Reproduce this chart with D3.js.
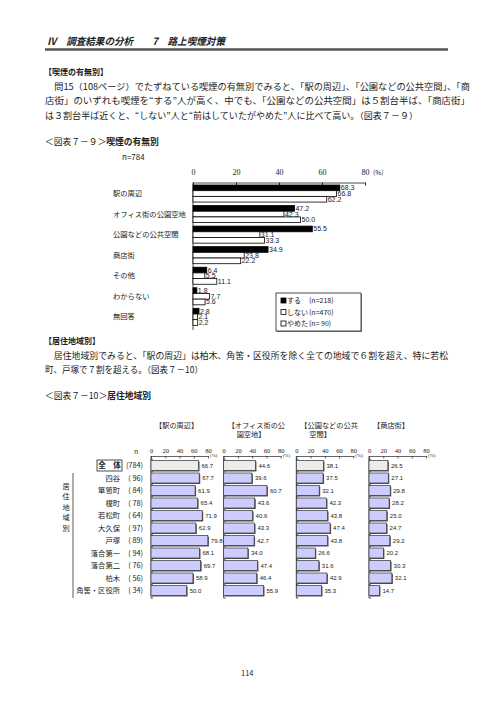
<!DOCTYPE html>
<meta charset="utf-8">
<head>
<style>
  body { margin: 0; background: #fff; }
  text { font-family: "Noto Sans CJK JP", sans-serif; fill: #222; white-space: pre; }
  .num { font-family: "Liberation Sans", Arial, sans-serif; }
  .tick text { font-family: "Liberation Serif", serif; fill: #222; }
  .domain, .tick line { stroke: #222; }
</style>
</head>
<body>
<div id="content"></div>
<script src="https://d3js.org/d3.v7.min.js"></script>
<script>

// 図表7-9 喫煙の有無別
var smokeCats = ["駅の周辺", "オフィス街の公園空地", "公園などの公共空間", "商店街", "その他", "わからない", "無回答"];
var smokeSeries = ["する", "しない", "やめた"];
var smokeN = ["(n=218)", "(n=470)", "(n= 90)"];
var suru   = [68.3, 47.2, 55.5, 34.9, 6.4, 1.8, 2.8];
var shinai = [66.8, 42.3, 31.1, 23.8, 5.5, 7.7, 2.1];
var yameta = [62.2, 50.0, 33.3, 22.2, 11.1, 5.6, 2.2];

// 図表7-10 居住地域別
var areas = ["全　体", "四谷", "箪笥町", "榎町", "若松町", "大久保", "戸塚", "落合第一", "落合第二", "柏木", "角筈・区役所"];
var areaN = ["(784)", "( 96)", "( 84)", "( 78)", "( 64)", "( 97)", "( 89)", "( 94)", "( 76)", "( 56)", "( 34)"];
var placeTitles = [["【駅の周辺】"], ["【オフィス街の公", "園空地】"], ["【公園などの公共", "空間】"], ["【商店街】"]];
var eki     = [66.7, 67.7, 61.9, 65.4, 71.9, 62.9, 79.8, 68.1, 69.7, 58.9, 50.0];
var office  = [44.6, 39.6, 60.7, 43.6, 40.6, 43.3, 42.7, 34.0, 47.4, 46.4, 55.9];
var kouen   = [38.1, 37.5, 32.1, 42.3, 43.8, 47.4, 43.8, 26.6, 31.6, 42.9, 35.3];
var shoten  = [26.5, 27.1, 29.8, 28.2, 25.0, 24.7, 29.2, 20.2, 30.3, 32.1, 14.7];
var pctTicks = [0, 20, 40, 60, 80];

function nb(s) { return s.replace(/ /g, "\u00a0"); }

var svg = d3.select("#content").append("svg")
    .attr("width", 496).attr("height", 702)
    .style("display", "block");
svg.append("rect").attr("width", 496).attr("height", 702).attr("fill", "#fff");

function line(txt, x, y, size, len, bold) {
  var t = svg.append("text").attr("x", x).attr("y", y).attr("dy", "0.36em")
      .style("font-size", size + "px").text(txt);
  if (len) t.attr("textLength", len).attr("lengthAdjust", "spacingAndGlyphs");
  if (bold) t.style("font-weight", "bold");
  return t;
}

// ---- page heading
line("Ⅳ　調査結果の分析　　7　路上喫煙対策", 47, 41, 10, 178, true).style("font-style", "italic");
svg.append("line").attr("x1", 45).attr("x2", 448).attr("y1", 49.5).attr("y2", 49.5)
    .attr("stroke", "#555").attr("stroke-width", 2.5);

line("【喫煙の有無別】", 44, 71.5, 8.5, 64, true);
line("　問15（108ページ）でたずねている喫煙の有無別でみると、「駅の周辺」、「公園などの公共空間」、「商", 45, 86.5, 8.75, 425);
line("店街」のいずれも喫煙を“する”人が高く、中でも、「公園などの公共空間」は５割台半ば、「商店街」", 45, 101, 8.75, 425);
line("は３割台半ば近くと、“しない”人と“前はしていたがやめた”人に比べて高い。（図表７－９）", 45, 115.5, 8.75, 373);

var cap1 = svg.append("text").attr("x", 45).attr("y", 142).attr("dy", "0.36em").style("font-size", "8.75px");
cap1.append("tspan").text("＜図表７－９＞");
cap1.append("tspan").style("font-weight", "bold").text("喫煙の有無別");
line("n=784", 122, 157, 8);

// ---- 図表7-9
var x1 = d3.scaleLinear().domain([0, 80]).range([193, 365]);
var y1 = d3.scaleBand().domain(smokeCats).range([185, 185 + 20.55 * 6.83]).paddingInner(0.17);
var ySub = d3.scaleBand().domain(smokeSeries).range([0, y1.bandwidth()]);
var smokeVals = [suru, shinai, yameta];

var ax1 = svg.append("g").attr("transform", "translate(0,182.5)")
    .call(d3.axisTop(x1).tickValues(pctTicks).tickSizeInner(-3).tickSizeOuter(0).tickPadding(8));
ax1.selectAll(".tick text").style("font-size", "8px");
ax1.select(".domain").attr("stroke-width", 0.8);
line("(%)", 373, 173, 6.5);
svg.append("line").attr("x1", x1(0)).attr("x2", x1(0)).attr("y1", 182.5).attr("y2", 330)
    .attr("stroke", "#222").attr("stroke-width", 0.8);

smokeCats.forEach(function(c, i) {
  line(c, 113, y1(c) + y1.bandwidth() / 2, 7.3);
  smokeSeries.forEach(function(s, j) {
    var v = smokeVals[j][i];
    var y = y1(c) + ySub(s);
    svg.append("rect").attr("x", x1(0)).attr("y", y)
        .attr("width", x1(v) - x1(0)).attr("height", ySub.bandwidth())
        .attr("fill", j === 0 ? "#000" : "#fff").attr("stroke", "#000").attr("stroke-width", 0.8);
    svg.append("text").attr("class", "num").attr("x", x1(v) + 1).attr("y", y + ySub.bandwidth() / 2)
        .attr("dy", "0.36em").style("font-size", "7px").text(v.toFixed(1));
  });
});

// legend
var lg = svg.append("g").attr("transform", "translate(276,293)");
lg.append("rect").attr("x", 1).attr("y", 1).attr("width", 85).attr("height", 38).attr("fill", "#888");
lg.append("rect").attr("width", 85).attr("height", 38).attr("fill", "#fff").attr("stroke", "#222").attr("stroke-width", 0.8);
smokeSeries.forEach(function(s, j) {
  var cy = 7.5 + j * 11.5;
  lg.append("rect").attr("x", 5).attr("y", cy - 2.5).attr("width", 5).attr("height", 5)
      .attr("fill", j === 0 ? "#000" : "#fff").attr("stroke", "#000").attr("stroke-width", 0.8);
  lg.append("text").attr("x", 11).attr("y", cy).attr("dy", "0.36em").style("font-size", "7px").text(s);
  lg.append("text").attr("x", 33).attr("y", cy).attr("dy", "0.36em").style("font-size", "7px").text(nb(smokeN[j]));
});

// ---- 居住地域別
line("【居住地域別】", 44, 341, 8.5, 56, true);
line("　居住地域別でみると、「駅の周辺」は柏木、角筈・区役所を除く全ての地域で６割を超え、特に若松", 45, 355.5, 8.75, 403);
line("町、戸塚で７割を超える。（図表７－10）", 45, 370, 8.75, 158);
var cap2 = svg.append("text").attr("x", 45).attr("y", 396).attr("dy", "0.36em").style("font-size", "8.75px");
cap2.append("tspan").text("＜図表７－10＞");
cap2.append("tspan").style("font-weight", "bold").text("居住地域別");

// ---- 図表7-10
var panelVals = [eki, office, kouen, shoten];
var px = d3.scalePoint().domain(d3.range(4)).range([151, 369]);
var y2 = d3.scaleBand().domain(areas).range([460.5, 460.5 + 12.5 * 10.8]).paddingInner(0.2);
var axisY = 456, bottomY = 598;

line("n", 134, 451, 7);

areas.forEach(function(a, i) {
  var cy = y2(a) + y2.bandwidth() / 2;
  if (i === 0) {
    svg.append("rect").attr("x", 97).attr("y", cy - 5.5).attr("width", 25).attr("height", 11)
        .attr("fill", "#fff").attr("stroke", "#222").attr("stroke-width", 0.8);
    svg.append("text").attr("x", 109.5).attr("y", cy).attr("dy", "0.36em").attr("text-anchor", "middle")
        .style("font-size", "7.5px").style("font-weight", "bold").text(a);
  } else {
    svg.append("text").attr("x", 120).attr("y", cy).attr("dy", "0.36em").attr("text-anchor", "end")
        .style("font-size", "7.3px").text(a);
  }
  svg.append("text").attr("x", 143).attr("y", cy).attr("dy", "0.36em").attr("text-anchor", "end")
      .style("font-size", "7.3px").text(nb(areaN[i]));
});

// 居住地域別 side label
svg.append("line").attr("x1", 73).attr("x2", 73).attr("y1", 473).attr("y2", 598)
    .attr("stroke", "#333").attr("stroke-width", 0.8);
"居住地域別".split("").forEach(function(ch, k) {
  svg.append("text").attr("x", 66).attr("y", 486 + k * 10.5).attr("dy", "0.36em")
      .attr("text-anchor", "middle").style("font-size", "7.2px").text(ch);
});

placeTitles.forEach(function(tl, p) {
  var x0 = px(p);
  tl.forEach(function(t, k) {
    svg.append("text").attr("x", x0 + 4 + (k > 0 ? 9 : 0)).attr("y", 425 + k * 9.5).attr("dy", "0.36em")
        .style("font-size", "7.2px").text(t);
  });

  var xs = d3.scaleLinear().domain([0, 80]).range([x0, x0 + 57]);
  var ax = svg.append("g").attr("transform", "translate(0," + axisY + ")")
      .call(d3.axisTop(xs).tickValues(pctTicks).tickSizeInner(-2.5).tickSizeOuter(0).tickPadding(3.5));
  ax.selectAll(".tick text").style("font-size", "6.5px");
  ax.select(".domain").attr("stroke-width", 0.7);
  ax.selectAll(".tick line").attr("stroke-width", 0.7);
  svg.append("text").attr("x", x0 + 59).attr("y", axisY - 1).attr("dy", "0.36em")
      .style("font-size", "5px").style("font-family", "Liberation Serif, serif").text("(%)");

  svg.append("line").attr("x1", x0).attr("x2", x0).attr("y1", axisY).attr("y2", bottomY)
      .attr("stroke", "#222").attr("stroke-width", 0.8);
  svg.append("line").attr("x1", x0).attr("x2", x0 + 2).attr("y1", bottomY).attr("y2", bottomY)
      .attr("stroke", "#222").attr("stroke-width", 0.8);

  areas.forEach(function(a, i) {
    var v = panelVals[p][i];
    var y = y2(a), h = y2.bandwidth();
    svg.append("rect").attr("x", xs(0) + 1).attr("y", y + 1).attr("width", xs(v) - xs(0)).attr("height", h)
        .attr("fill", "#555");
    svg.append("rect").attr("x", xs(0)).attr("y", y).attr("width", xs(v) - xs(0)).attr("height", h)
        .attr("fill", i === 0 ? "#ececec" : "#ccccff").attr("stroke", "#333").attr("stroke-width", 0.7);
    svg.append("line").attr("x1", x0 - 0.5).attr("x2", x0 + 2).attr("y1", y - 1.2).attr("y2", y - 1.2)
        .attr("stroke", "#222").attr("stroke-width", 0.7);
    svg.append("text").attr("class", "num").attr("x", xs(v) + 3).attr("y", y + h / 2).attr("dy", "0.36em")
        .style("font-size", "6px").text(v.toFixed(1));
  });
});

line("114", 241, 673, 7.5);

</script>
</body>
</html>
